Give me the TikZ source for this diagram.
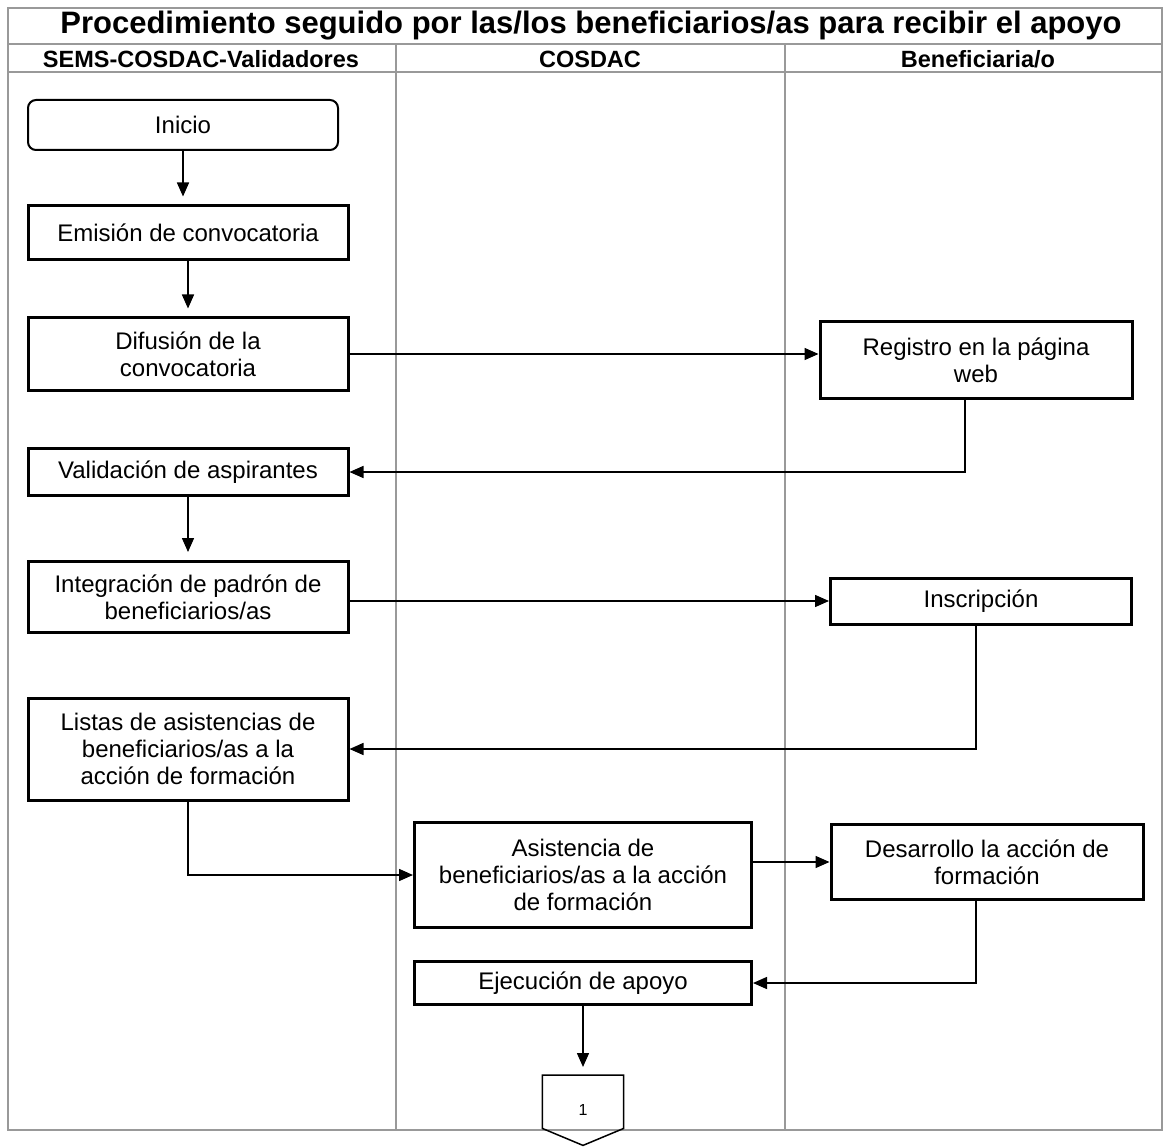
\documentclass[tikz,border=0pt]{standalone}
\usepackage{fontspec}
\setmainfont{Liberation Sans}
\usetikzlibrary{positioning,calc,arrows.meta}

\begin{document}
\begin{tikzpicture}[x=1pt,y=-1pt,
    box/.style={draw,line width=3pt,minimum width=320pt,align=center,inner sep=0pt,font=\fontsize{24}{27}\selectfont},
    arr/.style={line width=1.5pt,-{Triangle[length=14pt,width=12pt]}},
    gaparr/.style={arr,shorten >=8pt},
    lane/.style={draw=gray!80,line width=2pt},
    head/.style={font=\fontsize{23.5}{26}\selectfont\bfseries}]
    \useasboundingbox (0,0) rectangle (1164,1147);

    % Frame and lanes
    \draw[lane] (8,8) rectangle (1162,1130);
    \draw[lane] (8,44) -- (1162,44);
    \draw[lane] (8,72) -- (1162,72);
    \draw[lane] (396,44) -- (396,1130);
    \draw[lane] (785,44) -- (785,1130);

    % Title and lane headers
    \node[font=\fontsize{31}{33}\selectfont\bfseries] (title) at (591,26) {Procedimiento seguido por las/los beneficiarios/as para recibir el apoyo};
    \node[head] (hSems) at (201,59) {SEMS-COSDAC-Validadores};
    \node[head] (hCosdac) at (590,59) {COSDAC};
    \node[head] (hBenef) at (978,59) {Beneficiaria/o};

    % SEMS-COSDAC-Validadores lane
    \node[box,rounded corners=8pt,line width=2pt,minimum width=310pt,minimum height=50pt] (inicio) at (183,125) {Inicio};
    \node[box,minimum height=54pt] (emision) at (188,233) {Emisión de convocatoria};
    \node[box,minimum height=72pt] (difusion) at (188,354) {Difusión de la\\convocatoria};
    \node[box,minimum height=47pt] (validacion) at (188,472) {Validación de aspirantes};
    \node[box,minimum height=71pt] (integracion) at (188,597) {Integración de padrón de\\beneficiarios/as};
    \node[box,minimum height=102pt] (listas) at (188,749) {Listas de asistencias de\\beneficiarios/as a la\\acción de formación};

    % COSDAC lane
    \node[box,minimum width=337pt,minimum height=105pt] (asistencia) at (583,875) {Asistencia de\\beneficiarios/as a la acción\\de formación};
    \node[box,minimum width=337pt,minimum height=43pt] (ejecucion) at (583,983) {Ejecución de apoyo};
    \node[minimum width=81pt,minimum height=53pt,anchor=north,inner sep=0pt,text height=28pt,text depth=0pt,font=\fontsize{16}{18}\selectfont] (off) at (583,1075) {1};
    \draw[line width=1.5pt] (off.north west) -- (off.north east) -- (off.south east)
        -- ($(off.south)+(0,17)$) -- (off.south west) -- cycle;

    % Beneficiaria/o lane
    \node[box,minimum width=312pt,minimum height=76pt] (registro) at (976,360) {Registro en la página\\web};
    \node[box,minimum width=301pt,minimum height=46pt] (inscripcion) at (981,601) {Inscripción};
    \node[box,minimum width=312pt,minimum height=75pt] (desarrollo) at (987,862) {Desarrollo la acción de\\formación};

    % Connectors
    \draw[gaparr] (inicio.south) -- (inicio.south |- emision.north);
    \draw[gaparr] (emision.south) -- (difusion.north);
    \draw[arr] (difusion.east) -- (difusion.east -| registro.west);
    \draw[arr] ([xshift=-11pt]registro.south) |- (validacion.east);
    \draw[gaparr] (validacion.south) -- (integracion.north);
    \draw[arr] (integracion.east |- inscripcion.west) -- (inscripcion.west);
    \draw[arr] ([xshift=-5pt]inscripcion.south) |- (listas.east);
    \draw[arr] (listas.south) |- (asistencia.west);
    \draw[arr] (asistencia.east |- desarrollo.west) -- (desarrollo.west);
    \draw[arr] ([xshift=-11pt]desarrollo.south) |- (ejecucion.east);
    \draw[gaparr] (ejecucion.south) -- (off.north);
\end{tikzpicture}
\end{document}
